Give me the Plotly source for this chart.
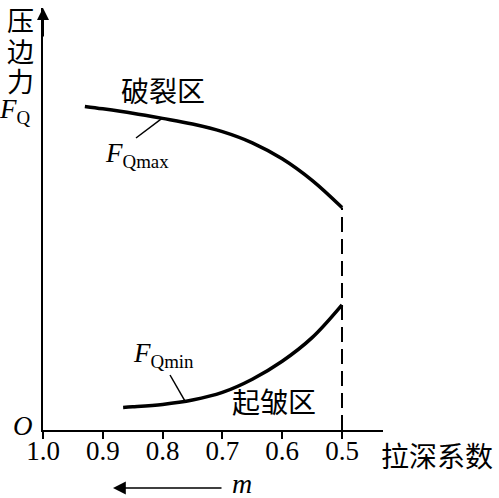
import plotly.graph_objects as go

# Data (arbitrary force units)
top_m = [0.930, 0.900, 0.850, 0.800, 0.750, 0.700, 0.650, 0.600, 0.550, 0.500]
top_f = [80.9, 80.3, 79.2, 77.9, 76.5, 74.6, 71.8, 67.8, 62.4, 55.6]
bot_m = [0.866, 0.850, 0.800, 0.750, 0.700, 0.650, 0.600, 0.550, 0.500]
bot_f = [5.65, 5.8, 6.4, 7.5, 9.4, 12.7, 17.2, 23.1, 31.3]
tick_vals = [1.0, 0.9, 0.8, 0.7, 0.6, 0.5]
tick_text = ["1.0", "0.9", "0.8", "0.7", "0.6", "0.5"]
boundary_m = [0.5, 0.5]
boundary_f = [0.0, 55.6]

W, H = 499, 498
L, R, T, B = 43, 116, 8, 68
PW, PH = W - L - R, H - T - B

def px(x):
    return (x - L) / PW

def py(y):
    return (H - B - y) / PH

SERIF = "Liberation Serif, Times New Roman, Noto Sans CJK SC"
CJK = "Noto Sans CJK SC, Liberation Serif"

fig = go.Figure()
fig.add_trace(go.Scatter(x=top_m, y=top_f, mode="lines",
                         line=dict(color="black", width=3.5, shape="spline", smoothing=1.0),
                         showlegend=False, hoverinfo="skip"))
fig.add_trace(go.Scatter(x=bot_m, y=bot_f, mode="lines",
                         line=dict(color="black", width=3.5, shape="spline", smoothing=1.0),
                         showlegend=False, hoverinfo="skip"))
fig.add_trace(go.Scatter(x=boundary_m, y=boundary_f, mode="lines",
                         line=dict(color="black", width=2, dash="15px,7px"),
                         showlegend=False, hoverinfo="skip"))

ann = []
def text(x, y, t, size=27, family=SERIF, xanchor="center"):
    ann.append(dict(x=px(x), y=py(y), xref="paper", yref="paper", text=t,
                    showarrow=False, xanchor=xanchor, yanchor="middle",
                    font=dict(family=family, size=size, color="black")))

# y-axis label stack
text(20, 20, "压", 27, CJK)
text(20, 50, "边", 27, CJK)
text(20, 81, "力", 27, CJK)
text(15, 111, "<i>F</i><sub>Q</sub>", 27)
text(23, 426, "<i>O</i>", 27)
text(437, 455, "拉深系数", 28, CJK)
text(242, 484, "<i>m</i>", 28)
text(163, 90, "破裂区", 28, CJK)
text(274, 401, "起皱区", 28, CJK)
text(103, 155, "<i>F</i><sub>Qmax</sub>", 27, xanchor="left")
text(131, 355, "<i>F</i><sub>Qmin</sub>", 27, xanchor="left")

# m arrow (pointing left)
ann.append(dict(x=px(113), y=py(488), xref="paper", yref="paper",
                ax=110, ay=0, axref="pixel", ayref="pixel", text="",
                showarrow=True, arrowhead=2, arrowsize=1.6, arrowwidth=1.6,
                arrowcolor="black", standoff=0))
# y axis arrowhead
ann.append(dict(x=0, y=1, xref="paper", yref="paper",
                ax=0, ay=30, axref="pixel", ayref="pixel", text="",
                showarrow=True, arrowhead=2, arrowsize=1.2, arrowwidth=2,
                arrowcolor="black", standoff=0))

shapes = [
    dict(type="line", xref="x", yref="y", x0=0.8445, y0=73.0, x1=0.801, y1=77.9,
         line=dict(color="black", width=1.5)),
    dict(type="line", xref="x", yref="y", x0=0.7876, y0=13.75, x1=0.7625, y1=7.2,
         line=dict(color="black", width=1.5)),
]

fig.update_layout(
    width=W, height=H,
    margin=dict(l=L, r=R, t=T, b=B, pad=0),
    paper_bgcolor="white", plot_bgcolor="white",
    showlegend=False,
    annotations=ann, shapes=shapes,
    xaxis=dict(range=[1.0, 1 - PW / 598], showgrid=False, zeroline=False,
               showline=True, linecolor="black", linewidth=2,
               ticks="outside", ticklen=7, tickwidth=2, tickcolor="black",
               tickvals=tick_vals, ticktext=tick_text, ticklabelstandoff=-11,
               tickfont=dict(family=SERIF, size=27, color="black")),
    yaxis=dict(range=[0, PH / 4], showgrid=False, zeroline=False,
               showline=True, linecolor="black", linewidth=2,
               showticklabels=False, ticks=""),
)

fig.write_html("out.html", config={"displayModeBar": False},
               post_script="document.body.style.margin='0';document.body.style.overflow='hidden';")
